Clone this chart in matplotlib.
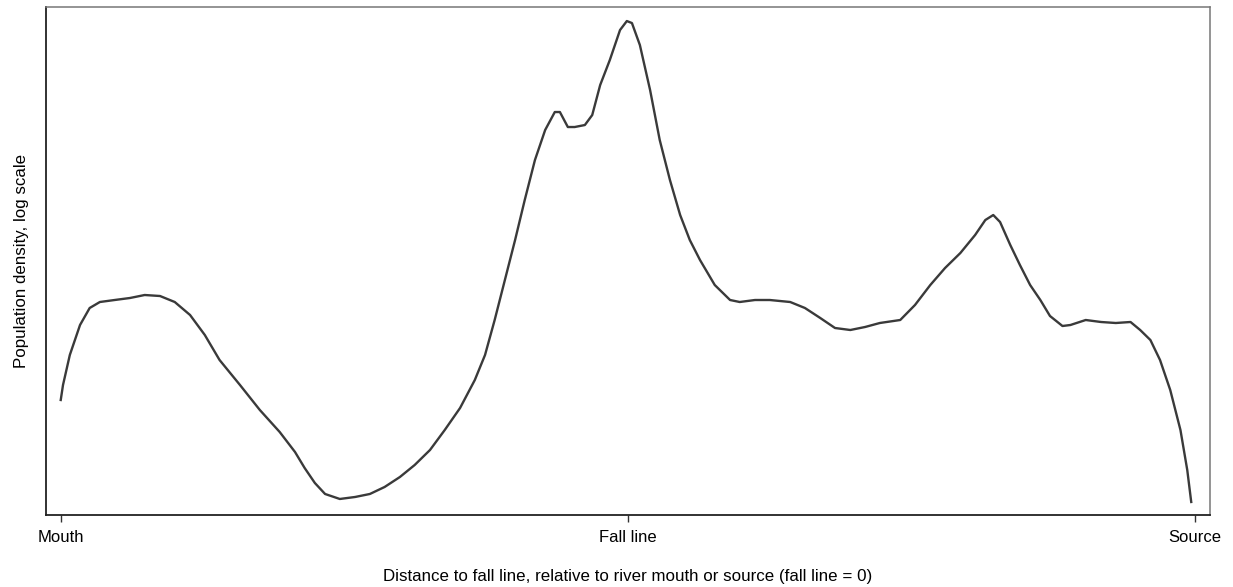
import matplotlib.pyplot as plt
import numpy as np

plt.rcParams['font.family'] = ['Liberation Sans', 'DejaVu Sans']

# distance to fall line: -1 = mouth, 0 = fall line, 1 = source
dist = [-1.000, -0.996, -0.984, -0.966, -0.949, -0.931, -0.905, -0.878, -0.852, -0.825,
        -0.799, -0.772, -0.746, -0.720, -0.684, -0.649, -0.614, -0.587, -0.570, -0.552,
        -0.534, -0.508, -0.481, -0.455, -0.429, -0.402, -0.376, -0.349, -0.323, -0.296,
        -0.270, -0.252, -0.235, -0.217, -0.199, -0.182, -0.164, -0.146, -0.129, -0.120,
        -0.106, -0.094, -0.076, -0.063, -0.049, -0.032, -0.014, -0.002, 0.007, 0.021,
        0.039, 0.056, 0.074, 0.092, 0.109, 0.127, 0.153, 0.180, 0.197, 0.224,
        0.250, 0.286, 0.312, 0.339, 0.365, 0.392, 0.418, 0.444, 0.480, 0.506,
        0.533, 0.559, 0.586, 0.612, 0.630, 0.644, 0.656, 0.674, 0.691, 0.709,
        0.727, 0.744, 0.766, 0.780, 0.807, 0.834, 0.860, 0.886, 0.903, 0.921,
        0.938, 0.956, 0.974, 0.986, 0.993]
# population density (log scale, arbitrary units)
density = [1.15, 1.30, 1.60, 1.90, 2.07, 2.13, 2.15, 2.17, 2.20, 2.19,
           2.13, 2.00, 1.80, 1.55, 1.30, 1.05, 0.83, 0.63, 0.47, 0.32,
           0.21, 0.16, 0.18, 0.21, 0.28, 0.38, 0.50, 0.65, 0.85, 1.07,
           1.35, 1.60, 1.95, 2.35, 2.75, 3.15, 3.55, 3.85, 4.03, 4.03,
           3.88, 3.88, 3.90, 4.00, 4.30, 4.55, 4.85, 4.94, 4.92, 4.70,
           4.25, 3.75, 3.35, 3.00, 2.75, 2.55, 2.30, 2.15, 2.13, 2.15,
           2.15, 2.13, 2.07, 1.97, 1.87, 1.85, 1.88, 1.92, 1.95, 2.10,
           2.30, 2.47, 2.62, 2.80, 2.95, 3.00, 2.93, 2.70, 2.50, 2.30,
           2.15, 1.99, 1.89, 1.90, 1.95, 1.93, 1.92, 1.93, 1.85, 1.75,
           1.55, 1.25, 0.85, 0.45, 0.13]

tick_pos = [-1, 0, 1]
tick_labels = ['Mouth', 'Fall line', 'Source']

fig = plt.figure(figsize=(12.33, 5.87), dpi=100)
ax = fig.add_axes([0.0373, 0.1227, 0.9440, 0.8653])
ax.plot(dist, density, color='#3a3a3a', lw=1.7, solid_joinstyle='round')

ax.set_xlim(-1.026, 1.026)
ax.set_ylim(0, 5.08)
ax.set_xticks(tick_pos)
ax.set_xticklabels(tick_labels, fontsize=12)
ax.set_yticks([])
ax.tick_params(axis='x', length=5, width=1, color='#333333', pad=6)

ax.set_xlabel('Distance to fall line, relative to river mouth or source (fall line = 0)',
              fontsize=12.2, labelpad=17)
ax.set_ylabel('Population density, log scale', fontsize=12.2, labelpad=12)

for side in ['left', 'bottom']:
    ax.spines[side].set_color('#222222')
    ax.spines[side].set_linewidth(1.3)
for side in ['top', 'right']:
    ax.spines[side].set_color('#777777')
    ax.spines[side].set_linewidth(1.1)

fig.savefig('out.png', dpi=100)
